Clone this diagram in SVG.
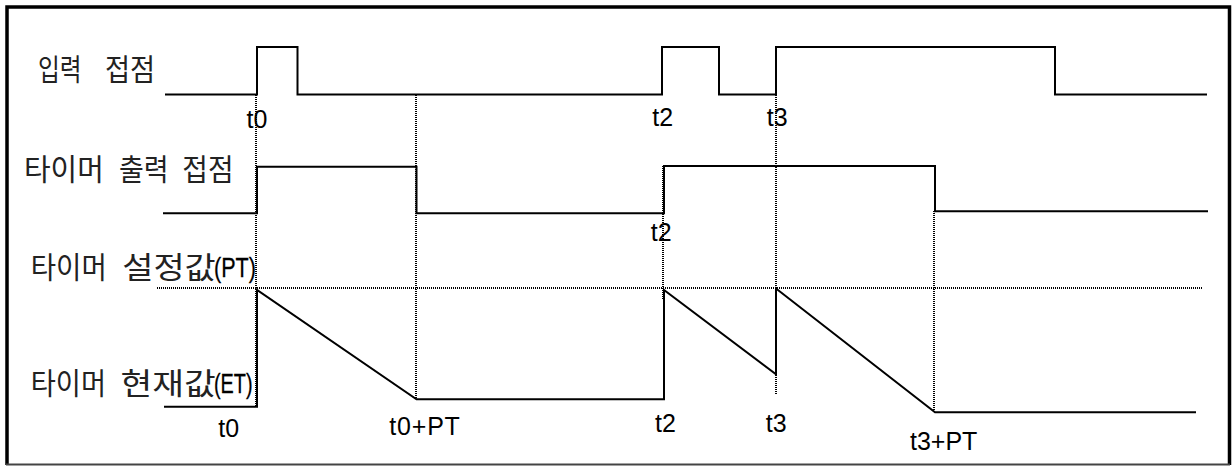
<svg xmlns="http://www.w3.org/2000/svg" width="1232" height="466" viewBox="0 0 1232 466">
  <style>
    .sig { fill: none; stroke: #000; stroke-width: 2; stroke-linejoin: miter; }
    .dot { fill: none; stroke: #000; stroke-width: 2; stroke-dasharray: 1 1; }
    .ko { font-family: "Noto Sans CJK KR", "Noto Sans", sans-serif; font-size: 30px; fill: #222; }
    .lat { font-family: "Liberation Sans", Arial, sans-serif; font-size: 25px; fill: #000; }
    .par { font-family: "Liberation Sans", Arial, sans-serif; font-size: 28px; fill: #000; stroke: #000; stroke-width: 0.3; }
  </style>

  <rect width="1232" height="466" fill="#fff"/>

  <!-- frame -->
  <g id="frame">
    <path d="M7,465 V7 H1229.5 V465" fill="none" stroke="#000" stroke-width="3.5"/>
    <line x1="6" y1="464.5" x2="1230" y2="464.5" stroke="#444" stroke-width="2"/>
  </g>

  <!-- time reference lines -->
  <g id="connectors">
    <path class="dot" d="M157,288 H1203"/>
    <path class="dot" d="M256,95 V406"/>
    <path class="dot" d="M416,95 V399"/>
    <path class="dot" d="M663,166 V300"/>
    <path class="dot" d="M776,95 V395"/>
    <path class="dot" d="M934,211 V412"/>
  </g>

  <!-- input contact -->
  <g id="input">
    <text class="ko" transform="translate(38,80) scale(0.79,1)">입력</text>
    <text class="ko" transform="translate(105,80) scale(0.91,1)">접점</text>
    <path class="sig" d="M165,94.5 H257 V47 H297.5 V94.5 H662 V47 H719 V94.5 H776 V47 H1055 V94.5 H1207"/>
    <text class="lat" x="246.5" y="127.7">t0</text>
    <text class="lat" x="652.3" y="126">t2</text>
    <text class="lat" x="766.7" y="126">t3</text>
  </g>

  <!-- timer output contact -->
  <g id="output">
    <text class="ko" transform="translate(24,180) scale(0.965,1)">타이머</text>
    <text class="ko" transform="translate(119,180) scale(0.9,1)">출력</text>
    <text class="ko" transform="translate(182.3,180) scale(0.93,1)">접점</text>
    <path class="sig" d="M163,213.3 H257 V166.7 H416.5 V213.3 H664 V166 H935 V211.3 H1208"/>
    <text class="lat" x="650.7" y="240.7">t2</text>
  </g>

  <!-- timer preset value -->
  <g id="preset">
    <text class="ko" transform="translate(30.7,278) scale(0.92,1)">타이머</text>
    <text class="ko" transform="translate(122.2,278) scale(1.13,1)">설정값</text>
    <text class="par" transform="translate(214,277) scale(0.77,1)">(PT)</text>
  </g>

  <!-- timer elapsed value -->
  <g id="elapsed">
    <text class="ko" transform="translate(30.7,393.5) scale(0.91,1)">타이머</text>
    <text class="ko" transform="translate(120.6,393.5) scale(1.15,1)">현재값</text>
    <text class="par" transform="translate(214,392.5) scale(0.71,1)">(ET)</text>
    <path class="sig" d="M164,406.7 H257 V290 L416.5,399.3 H664 V290 L776,374.3 V288.5 L935,412.3 H1196"/>
    <text class="lat" x="218.3" y="436.7">t0</text>
    <text class="lat" x="389.3" y="435" letter-spacing="0.8">t0+PT</text>
    <text class="lat" x="655" y="431.7">t2</text>
    <text class="lat" x="765.7" y="431.7">t3</text>
    <text class="lat" x="910" y="450">t3+PT</text>
  </g>
</svg>
